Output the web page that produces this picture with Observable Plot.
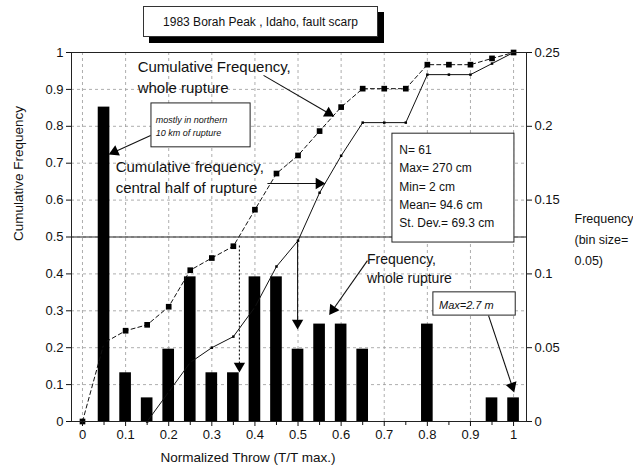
<!DOCTYPE html>
<html><head><meta charset="utf-8">
<script src="https://cdn.jsdelivr.net/npm/d3@7"></script>
<script src="https://cdn.jsdelivr.net/npm/@observablehq/plot@0.6"></script>
<style>
body{margin:0;background:#fff;font-family:"Liberation Sans",Arial,sans-serif;}
#wrap{position:relative;width:633px;height:473px;}
#title{position:absolute;left:143px;top:6px;width:233px;height:29px;border:1px solid #333;background:#fff;box-shadow:6px 6px 0 #000;font-size:12px;display:flex;align-items:center;justify-content:center;color:#111;z-index:2;}
#chart{position:absolute;left:0;top:0;}
</style></head><body>
<div id="wrap"><div id="title">1983 Borah Peak , Idaho, fault scarp</div><div id="chart"></div></div>
<script>
// ---- data ----
const binCenters = [0.05,0.1,0.15,0.2,0.25,0.3,0.35,0.4,0.45,0.5,0.55,0.6,0.65,0.7,0.75,0.8,0.85,0.9,0.95,1.0];
const frequency  = [0.213,0.033,0.016,0.049,0.098,0.033,0.033,0.098,0.098,0.049,0.066,0.066,0.049,0,0,0.066,0,0,0.016,0.016];

const cumWholeX = [0,0.05,0.1,0.15,0.2,0.25,0.3,0.35,0.4,0.45,0.5,0.55,0.6,0.65,0.7,0.75,0.8,0.85,0.9,0.95,1.0];
const cumWhole  = [0,0.213,0.246,0.262,0.311,0.41,0.443,0.475,0.574,0.672,0.721,0.787,0.852,0.902,0.902,0.902,0.967,0.967,0.967,0.984,1.0];

const cumCentralX = [0.15,0.2,0.25,0.3,0.35,0.4,0.45,0.5,0.55,0.6,0.65,0.7,0.75,0.8,0.85,0.9,0.95,1.0];
const cumCentral  = [0,0.08,0.16,0.2,0.23,0.31,0.42,0.49,0.62,0.72,0.81,0.81,0.81,0.94,0.94,0.94,0.97,1.0];

const xTicks = [0,0.1,0.2,0.3,0.4,0.5,0.6,0.7,0.8,0.9,1];
const xMinorTicks = [0.05,0.15,0.25,0.35,0.45,0.55,0.65,0.75,0.85,0.95];
const xTickLabels = ["0","0.1","0.2","0.3","0.4","0.5","0.6","0.7","0.8","0.9","1"];
const yTicks = [0,0.1,0.2,0.3,0.4,0.5,0.6,0.7,0.8,0.9,1];
const yTickLabels = ["0","0.1","0.2","0.3","0.4","0.5","0.6","0.7","0.8","0.9","1"];
const rightTicks = [0,0.2,0.4,0.6,0.8,1];
const rightTickLabels = ["0","0.05","0.1","0.15","0.2","0.25"];

// annotations (data units)
const notesPlain = [
  {x:0.128, y:0.937, text:"Cumulative Frequency,\nwhole rupture", size:15},
  {x:0.077, y:0.665, text:"Cumulative frequency,\ncentral half of rupture", size:15},
  {x:0.66,  y:0.418, text:"Frequency,\nwhole rupture", size:14}
];
const notesItalic = [
  {x:0.17,  y:0.802, text:"mostly in northern\n10 km of rupture", size:9},
  {x:0.827, y:0.318, text:"Max=2.7 m", size:11}
];
const statsText = ["N= 61","Max= 270 cm","Min= 2 cm","Mean= 94.6 cm","St. Dev.= 69.3 cm"];
const boxes = [
  {x1:0.160, x2:0.390, y1:0.743, y2:0.862},
  {x1:0.719, x2:1.002, y1:0.485, y2:0.780},
  {x1:0.814, x2:1.005, y1:0.287, y2:0.350}
];
const arrows = [
  {x1:0.158, y1:0.775, x2:0.065, y2:0.726, dash:false},
  {x1:0.42,  y1:0.938, x2:0.58,  y2:0.829, dash:false},
  {x1:0.429, y1:0.645, x2:0.559, y2:0.645, dash:false},
  {x1:0.661, y1:0.436, x2:0.575, y2:0.293, dash:false},
  {x1:0.942, y1:0.287, x2:1.0,   y2:0.084, dash:false},
  {x1:0.499, y1:0.49,  x2:0.499, y2:0.255, dash:false},
  {x1:0.364, y1:0.477, x2:0.364, y2:0.138, dash:true}
];

// ---- layout ----
const W = 633, H = 473, mL = 71, mR = 107, mT = 52, mB = 52;
const xDomain = [-0.0255, 1.03], yDomain = [0, 1];
const xs = d3.scaleLinear(xDomain, [mL, W - mR]);
const ys = d3.scaleLinear(yDomain, [H - mB, mT]);

const bars = binCenters.map((x,i)=>({x, f:frequency[i]}));
const whole = cumWholeX.map((x,i)=>({x, y:cumWhole[i]}));
const central = cumCentralX.map((x,i)=>({x, y:cumCentral[i]}));
const stats = statsText.map((t,i)=>({t,i}));
const halfW = 0.0135;

// filled arrow heads: a triangle placed just behind each tip, rotated along the shaft
const heads = arrows.map(a => {
  const px1 = xs(a.x1), py1 = ys(a.y1), px2 = xs(a.x2), py2 = ys(a.y2);
  const dx = px2 - px1, dy = py2 - py1, len = Math.hypot(dx, dy);
  const back = 4.5;
  return {
    x: xs.invert(px2 - dx / len * back),
    y: ys.invert(py2 - dy / len * back),
    angle: Math.atan2(dx, -dy) * 180 / Math.PI
  };
});
const shafts = arrows.map(a => {
  const px1 = xs(a.x1), py1 = ys(a.y1), px2 = xs(a.x2), py2 = ys(a.y2);
  const dx = px2 - px1, dy = py2 - py1, len = Math.hypot(dx, dy);
  return {...a, x2: xs.invert(px2 - dx/len*6), y2: ys.invert(py2 - dy/len*6)};
});

const chart = Plot.plot({
  width:W, height:H,
  marginLeft:mL, marginRight:mR, marginTop:mT, marginBottom:mB,
  x:{domain:xDomain},
  y:{domain:yDomain},
  style:{fontFamily:"'Liberation Sans', Arial, sans-serif", fontSize:"13px", color:"#111", background:"transparent"},
  marks:[
    Plot.ruleX(xTicks,{x:d=>d, stroke:"#999", strokeWidth:0.8, strokeDasharray:"3,3"}),
    Plot.ruleY(yTicks,{y:d=>d, stroke:"#999", strokeWidth:0.8, strokeDasharray:"3,3"}),
    Plot.ruleY([0.5],{y:d=>d, stroke:"#222", strokeWidth:1.1}),
    Plot.rect(bars,{x1:d=>d.x-halfW, x2:d=>d.x+halfW, y1:0, y2:d=>d.f*4, fill:"#000"}),
    Plot.line(whole,{x:"x", y:"y", stroke:"#111", strokeWidth:1, strokeDasharray:"4,3"}),
    Plot.dot(whole,{x:"x", y:"y", symbol:"square", r:3.2, fill:"#000"}),
    Plot.line(central,{x:"x", y:"y", stroke:"#111", strokeWidth:1}),
    Plot.dot(central,{x:"x", y:"y", symbol:"square", r:1.4, fill:"#000"}),
    Plot.rect(boxes,{x1:"x1", x2:"x2", y1:"y1", y2:"y2", fill:"#fff", stroke:"#222", strokeWidth:1}),
    Plot.text(stats,{x:0.735, y:(d)=>0.735 - d.i*0.0497, text:"t", textAnchor:"start", fontSize:12, fill:"#111"}),
    Plot.text(notesPlain,{x:"x", y:"y", text:"text", textAnchor:"start", lineAnchor:"middle", fontSize:d=>d.size, lineHeight:1.4, fill:"#111"}),
    Plot.text(notesItalic,{x:"x", y:"y", text:"text", textAnchor:"start", lineAnchor:"middle", fontSize:d=>d.size, fontStyle:"italic", lineHeight:1.45, fill:"#111"}),
    Plot.link(shafts.filter(d=>!d.dash),{x1:"x1", y1:"y1", x2:"x2", y2:"y2", stroke:"#111", strokeWidth:1.1}),
    Plot.link(shafts.filter(d=>d.dash),{x1:"x1", y1:"y1", x2:"x2", y2:"y2", stroke:"#111", strokeWidth:1.1, strokeDasharray:"2,2"}),
    Plot.dot(heads,{x:"x", y:"y", symbol:"triangle", r:4.2, fill:"#000", stroke:"none", rotate:"angle"}),
    Plot.frame({stroke:"#222", strokeWidth:1}),
    Plot.axisX(xTicks,{tickSize:5, tickPadding:3, tickFormat:(d,i)=>xTickLabels[i], fontSize:13, label:null}),
    Plot.axisX(xMinorTicks,{tickSize:4, text:null, label:null}),
    Plot.axisY(yTicks,{anchor:"left", tickSize:5, tickPadding:3, tickFormat:(d,i)=>yTickLabels[i], fontSize:13, label:null}),
    Plot.axisY(rightTicks,{anchor:"right", tickSize:5, tickPadding:3, tickFormat:(d,i)=>rightTickLabels[i], fontSize:13, label:null}),
    Plot.text(["Normalized Throw (T/T max.)"],{frameAnchor:"bottom", dx:-51, dy:40, fontSize:13.5, fill:"#111"}),
    Plot.text(["Cumulative Frequency"],{frameAnchor:"left", dx:-53, dy:4, rotate:-90, fontSize:13.5, fill:"#111"}),
    Plot.text(["Frequency\n(bin size=\n0.05)"],{frameAnchor:"right", dx:48, textAnchor:"start", lineAnchor:"middle", lineHeight:1.7, fontSize:12.5, fill:"#111"})
  ]
});
document.getElementById("chart").appendChild(chart);
</script>
</body></html>
